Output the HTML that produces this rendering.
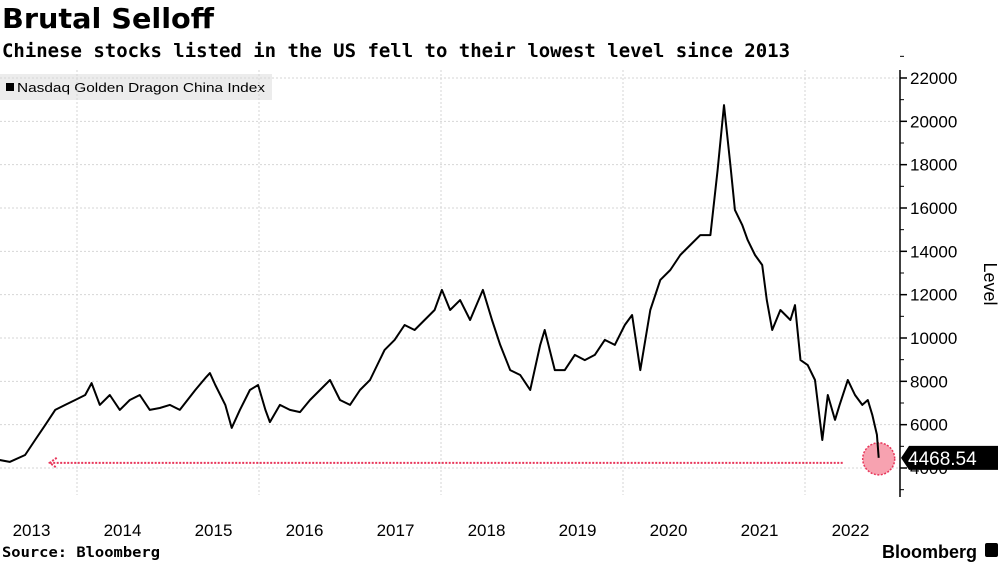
<!DOCTYPE html>
<html><head><meta charset="utf-8">
<style>
body{margin:0;background:#fff;width:1003px;height:564px;overflow:hidden;font-family:"Liberation Sans",sans-serif;}
svg{position:absolute;left:0;top:0}
</style></head>
<body>
<svg id="chart" width="1003" height="564">
  <text x="2" y="28" font-size="28" font-weight="bold" fill="#000" textLength="212" lengthAdjust="spacingAndGlyphs" font-family="DejaVu Sans, sans-serif">Brutal Selloff</text>
  <text x="2" y="57" font-size="19" font-weight="bold" fill="#000" textLength="788" lengthAdjust="spacingAndGlyphs" font-family="DejaVu Sans Mono, monospace">Chinese stocks listed in the US fell to their lowest level since 2013</text>
  <g>
    <rect x="0" y="74" width="272" height="26" fill="#ececec"/>
    <rect x="6" y="83" width="8" height="8" fill="#000"/>
    <text x="17" y="92" font-size="13" fill="#000" textLength="248" lengthAdjust="spacingAndGlyphs">Nasdaq Golden Dragon China Index</text>
  </g>
  <g id="grid"></g>
  <g id="axis"></g>
  <text transform="translate(984,284) rotate(90)" font-size="18" text-anchor="middle" fill="#000">Level</text>
  <g id="marks"></g>
  <text x="2" y="557" font-size="14" font-weight="bold" textLength="158" lengthAdjust="spacingAndGlyphs" font-family="DejaVu Sans Mono, monospace">Source: Bloomberg</text>
  <text x="977" y="558" font-size="18" font-weight="bold" text-anchor="end">Bloomberg</text>
  <rect x="985" y="543" width="13" height="14" rx="2" fill="#000"/>
</svg>
<script>
const dates=[2013.15,2013.26,2013.43,2013.54,2013.65,2013.76,2013.87,2013.98,2014.09,2014.16,2014.25,2014.36,2014.47,2014.58,2014.69,2014.80,2014.91,2015.02,2015.13,2015.30,2015.41,2015.46,2015.52,2015.63,2015.70,2015.79,2015.90,2015.99,2016.07,2016.12,2016.23,2016.34,2016.45,2016.56,2016.67,2016.78,2016.89,2017.00,2017.11,2017.22,2017.38,2017.49,2017.60,2017.71,2017.82,2017.93,2018.01,2018.10,2018.21,2018.32,2018.46,2018.56,2018.65,2018.76,2018.87,2018.98,2019.09,2019.14,2019.25,2019.36,2019.47,2019.58,2019.69,2019.80,2019.91,2020.02,2020.10,2020.19,2020.30,2020.41,2020.52,2020.63,2020.74,2020.85,2020.96,2021.04,2021.11,2021.18,2021.23,2021.31,2021.37,2021.45,2021.53,2021.58,2021.64,2021.73,2021.84,2021.89,2021.95,2022.03,2022.11,2022.19,2022.25,2022.33,2022.38,2022.47,2022.55,2022.63,2022.69,2022.74,2022.79,2022.81];
const values=[4370,4280,4600,5290,5980,6680,6910,7140,7370,7920,6910,7370,6680,7140,7370,6680,6770,6910,6680,7600,8150,8380,7830,6910,5850,6680,7600,7830,6680,6120,6910,6680,6580,7140,7600,8060,7140,6910,7600,8060,9450,9910,10600,10370,10830,11290,12220,11290,11750,10830,12220,10830,9680,8520,8290,7600,9680,10370,8520,8520,9220,8980,9220,9910,9680,10600,11060,8520,11290,12680,13140,13830,14290,14750,14750,17750,20750,17980,15910,15220,14520,13830,13370,11750,10370,11290,10830,11520,8980,8750,8060,5290,7370,6220,6910,8060,7370,6910,7140,6450,5540,4469];
const yTicks=[4000,6000,8000,10000,12000,14000,16000,18000,20000,22000];
const xLabels=[2013,2014,2015,2016,2017,2018,2019,2020,2021,2022];
const gridYears=[2014,2016,2018,2020,2022];
const lastLabel="4468.54";
const NS="http://www.w3.org/2000/svg";
function X(t){return 77+(t-2014)*91;}
function Y(v){return 468-(v-4000)*0.021667;}
function mk(tag,attrs,parent){const e=document.createElementNS(NS,tag);for(const k in attrs)e.setAttribute(k,attrs[k]);parent.appendChild(e);return e;}
const grid=document.getElementById('grid'),axis=document.getElementById('axis'),marks=document.getElementById('marks');
yTicks.forEach(v=>{
  const l=mk('line',{x1:0,x2:900,y1:Y(v),y2:Y(v),stroke:'#d6d6d6','stroke-dasharray':'2,2'},grid);
  
  
  mk('line',{x1:900,x2:907,y1:Y(v),y2:Y(v),stroke:'#000','stroke-width':1.5},axis);
  mk('line',{x1:900,x2:904,y1:Y(v+1000),y2:Y(v+1000),stroke:'#000','stroke-width':1},axis);
  const t=mk('text',{x:910,y:Y(v)+6,'font-size':17,fill:'#000'},axis);
  t.textContent=v;
  
  
});
mk('line',{x1:900,x2:904,y1:Y(3000),y2:Y(3000),stroke:'#000'},axis);
gridYears.forEach(y=>{
  const l=mk('line',{x1:X(y),x2:X(y),y1:70,y2:495,stroke:'#d6d6d6','stroke-dasharray':'2,2'},grid);
  
  
});
mk('line',{x1:900,x2:900,y1:70,y2:497,stroke:'#000','stroke-width':1.5},axis);
xLabels.forEach(y=>{
  const t=mk('text',{x:X(y+0.5),y:536,'font-size':17,'text-anchor':'middle',fill:'#000'},axis);
  t.textContent=y;
  
  
});
const lastV=values[values.length-1],lastT=dates[dates.length-1];
const arrow=mk('line',{x1:X(2013.7),x2:X(lastT)-36,y1:Y(lastV)+5,y2:Y(lastV)+5,stroke:'#e8365a','stroke-width':2,'stroke-dasharray':'2,1.5'},marks);


const ah=mk('polyline',{points:`${X(2013.7)+7},${Y(lastV)} ${X(2013.7)},${Y(lastV)+5} ${X(2013.7)+7},${Y(lastV)+10}`,fill:'none',stroke:'#e8365a','stroke-width':2,'stroke-dasharray':'2,1.5'},marks);


const circ=mk('circle',{cx:X(lastT),cy:Y(lastV)+1,r:16,fill:'#f7a2b0',stroke:'#e8365a','stroke-width':1.5,'stroke-dasharray':'2,1.5'},marks);


const path=mk('path',{d:dates.map((t,i)=>(i?'L':'M')+X(t).toFixed(1)+','+Y(values[i]).toFixed(1)).join(''),fill:'none',stroke:'#000','stroke-width':2,'stroke-linejoin':'round'},marks);


const ly=Y(lastV);
const lb=mk('polygon',{points:`901,${ly} 909,${ly-12} 998,${ly-12} 998,${ly+12} 909,${ly+12}`,fill:'#000'},marks);


const lt=mk('text',{x:908,y:ly+7,'font-size':19,fill:'#fff'},marks);
lt.textContent=lastLabel;


</script>
</body></html>
